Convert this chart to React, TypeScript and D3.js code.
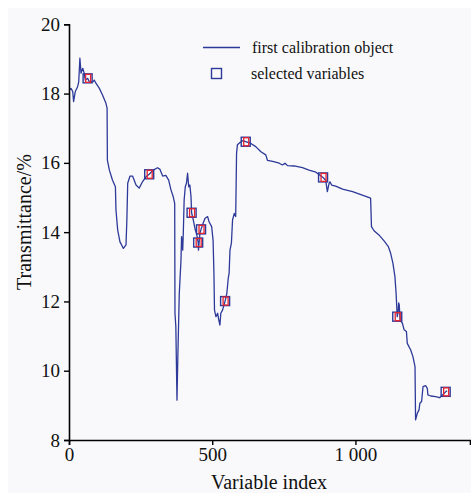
import React, { useEffect, useRef } from "react";
import * as d3 from "d3";

const curveIndex = [1,7,13,16,22,30,34,38,42,48,53,57,65,71,83,88,94,106,117,129,133,134,141,152,162,164,170,178,190,199,202,205,213,222,234,245,257,269,280,294,309,317,327,338,348,356,364,369,370,373,377,380,385,391,393,397,399,402,406,410,414,418,422,426,428,434,441,445,451,452,457,461,468,475,484,489,498,503,506,508,513,519,522,527,530,536,545,551,556,559,562,567,571,577,582,585,588,596,606,617,635,652,670,687,693,711,734,745,754,763,786,815,838,862,887,896,902,908,911,917,931,955,990,1024,1053,1056,1065,1082,1100,1115,1123,1131,1138,1142,1146,1149,1151,1153,1156,1164,1170,1178,1181,1193,1201,1208,1210,1216,1222,1225,1231,1236,1245,1251,1253,1263,1280,1294,1315,1320];
const curveValue = [18.10,18.15,18.06,17.77,18.06,18.2,18.34,19.02,18.59,18.73,18.59,18.39,18.44,18.34,18.34,18.39,18.3,18.15,17.96,17.72,17.58,16.08,15.79,15.5,15.31,14.64,14.06,13.72,13.53,13.63,14.35,15.41,15.62,15.62,15.36,15.27,15.46,15.6,15.67,15.79,15.86,15.82,15.62,15.64,15.5,15.22,15.02,14.83,11.66,11.27,9.15,10.4,12.23,13.2,13.87,13.48,13.97,14.93,15.31,15.41,15.7,15.31,15.36,15.02,14.56,14.35,14.06,13.97,13.7,13.48,13.97,14.08,14.25,14.4,14.45,14.3,14.16,13.77,12.81,11.75,11.56,11.66,11.5,11.32,11.66,11.75,12.01,12.23,12.67,12.81,13.48,13.68,14.35,14.54,14.45,16.28,16.52,16.58,16.64,16.61,16.56,16.47,16.32,16.23,16.07,16.04,15.99,15.94,15.99,15.92,15.91,15.86,15.79,15.73,15.58,15.5,15.17,15.41,15.45,15.36,15.33,15.24,15.17,15.07,14.98,14.16,14.04,13.92,13.75,13.58,13.39,13.1,12.71,12.23,11.56,11.7,11.96,11.9,11.46,11.37,11.18,11.13,10.79,10.6,10.4,10.12,8.58,8.77,8.87,9.06,9.11,9.54,9.57,9.49,9.3,9.27,9.25,9.22,9.39,9.42];

const selectedIndex = [65,280,428,451,461,545,617,887,1146,1315];
const selectedValue = [18.44,15.67,14.56,13.7,14.08,12.01,16.61,15.58,11.56,9.39];

const xTicks = [0,500,1000];
const yTicks = [8,10,12,14,16,18,20];
const legendLabels = ["first calibration object","selected variables"];
const xTitle = "Variable index";
const yTitle = "Transmittance/%";

const W = 471, H = 493;
const BLUE = "#2d3a99";
const RED = "#e8242e";
const FONT = "'Liberation Serif', 'Times New Roman', serif";

export default function App() {
  const xRef = useRef<SVGGElement>(null);
  const yRef = useRef<SVGGElement>(null);

  const x = d3.scaleLinear().domain([0, 1400]).range([69, 470]);
  const y = d3.scaleLinear().domain([8, 20]).range([440, 24.3]);

  const fmt = d3.formatLocale({ decimal: ".", thousands: " ", grouping: [3], currency: ["", ""] }).format(",");

  useEffect(() => {
    const gx = d3.select(xRef.current!);
    gx.call(d3.axisBottom(x).tickValues(xTicks).tickFormat((d: any) => fmt(d)).tickSizeOuter(0).tickSize(5).tickPadding(3) as any);
    gx.select(".domain").attr("stroke", "#000").attr("stroke-width", 1.6);
    gx.selectAll(".tick line").attr("stroke", "#000").attr("stroke-width", 1.4);
    gx.selectAll(".tick text").attr("font-family", FONT).attr("font-size", 19).attr("fill", "#111");

    const gy = d3.select(yRef.current!);
    gy.call(d3.axisLeft(y).tickValues(yTicks).tickSizeOuter(0).tickSize(5).tickPadding(4) as any);
    gy.select(".domain").attr("stroke", "#000").attr("stroke-width", 1.6);
    gy.selectAll(".tick line").attr("stroke", "#000").attr("stroke-width", 1.4);
    gy.selectAll(".tick text").attr("font-family", FONT).attr("font-size", 19).attr("fill", "#111");
  }, []);

  const pts: [number, number][] = curveIndex.map((d, i) => [d, curveValue[i]]);
  const line = d3.line<[number, number]>().x(d => x(d[0])).y(d => y(d[1]));

  return (
    <svg width={W} height={H} style={{ position: "absolute", left: 0, top: 0 }}>
      <rect x={0} y={0} width={W} height={H} fill="#fff" />
      <rect x={8} y={8} width={W - 8} height={H - 8} fill="#f9f9fb" />
      <path d={line(pts) || ""} fill="none" stroke={BLUE} strokeWidth={1.3} strokeLinejoin="round" />
      {selectedIndex.map((d, i) => (
        <g key={i}>
          <rect x={x(d) - 4.5} y={y(selectedValue[i]) - 4.5} width={9} height={9} fill="none" stroke={BLUE} strokeWidth={1.4} />
          <rect x={x(d) - 2} y={y(selectedValue[i]) - 4} width={5} height={8} fill="none" stroke={RED} strokeWidth={1.3} />
        </g>
      ))}
      <g ref={xRef} transform={`translate(0,440)`} />
      <g ref={yRef} transform={`translate(69,0)`} />
      <line x1={203} x2={240} y1={47.5} y2={47.5} stroke={BLUE} strokeWidth={1.4} />
      <text x={252} y={53} fontFamily={FONT} fontSize={16} fill="#111">{legendLabels[0]}</text>
      <rect x={211.5} y={68.5} width={10} height={10} fill="none" stroke={BLUE} strokeWidth={1.4} />
      <text x={251} y={79} fontFamily={FONT} fontSize={16} fill="#111">{legendLabels[1]}</text>
      <text x={269} y={489} textAnchor="middle" fontFamily={FONT} fontSize={20} fill="#111">{xTitle}</text>
      <text transform="translate(31,222) rotate(-90)" textAnchor="middle" fontFamily={FONT} fontSize={20} fill="#111">{yTitle}</text>
    </svg>
  );
}
